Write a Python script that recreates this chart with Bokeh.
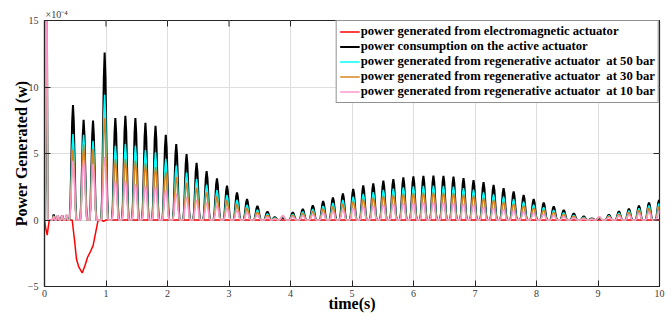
import numpy as np
from bokeh.plotting import figure
from bokeh.models import Range1d, FixedTicker, Legend, LegendItem
from bokeh.embed import file_html
from bokeh.resources import INLINE

# ---------------- data (units of 1e-4 W) ----------------
x_ticks = [0, 1, 2, 3, 4, 5, 6, 7, 8, 9, 10]
y_ticks = [-5, 0, 5, 10, 15]

legend_labels = [
    "power generated from electromagnetic actuator",
    "power consumption on the active actuator",
    "power generated from regenerative actuator  at 50 bar",
    "power generated from regenerative actuator  at 30 bar",
    "power generated from regenerative actuator  at 10 bar",
]

# electromagnetic actuator (red)
red_t = [0.0, 0.02, 0.044, 0.062, 0.078, 0.45, 0.49, 0.52, 0.555, 0.613, 0.66,
         0.70, 0.75, 0.79, 0.838, 0.87, 0.92, 0.96, 1.0, 10.0]
red_v = [0.0, -0.6, -1.13, -0.5, 0.0, 0.0, -1.6, -2.93, -3.5, -3.98, -3.4,
         -2.8, -2.35, -1.93, -0.8, -0.05, 0.0, -0.1, 0.0, 0.0]

# initial spike
start_t = [0.03]
start_black = [22.0]
start_cyan = [22.0]
start_orange = [22.0]
start_pink = [22.0]

# small ripples before the first big peak
ripple_t = [0.15, 0.216, 0.287, 0.358]
ripple_black = [0.40, 0.30, 0.35, 0.30]
ripple_cyan = [0.30, 0.35, 0.30, 0.35]
ripple_orange = [0.30, 0.35, 0.30, 0.40]
ripple_pink = [0.25, 0.38, 0.35, 0.40]

# main peaks
peak_t = [0.463, 0.636, 0.789, 0.978, 1.152, 1.315, 1.478, 1.641, 1.805, 1.972,
          2.142, 2.310, 2.473, 2.636, 2.804, 2.967, 3.130, 3.293, 3.462, 3.625,
          3.744, 3.875, 4.037, 4.200, 4.363, 4.531, 4.690, 4.852, 5.020, 5.183,
          5.346, 5.510, 5.672, 5.835, 5.998, 6.161, 6.324, 6.487, 6.650, 6.813,
          6.976, 7.139, 7.302, 7.465, 7.628, 7.791, 7.954, 8.117, 8.280, 8.443,
          8.606, 8.769, 8.900, 9.020, 9.177, 9.340, 9.503, 9.666, 9.829, 9.992]
black_pk = [8.64, 7.54, 7.47, 12.6, 7.67, 7.84, 7.67, 7.30, 7.09, 6.41,
            5.71, 4.96, 4.29, 3.68, 3.13, 2.58, 2.08, 1.57, 1.06, 0.64,
            0.22, 0.20, 0.57, 0.83, 1.10, 1.42, 1.70, 2.00, 2.33, 2.60,
            2.75, 2.95, 3.08, 3.20, 3.28, 3.32, 3.33, 3.32, 3.26, 3.14,
            3.00, 2.84, 2.63, 2.40, 2.14, 1.88, 1.58, 1.32, 1.02, 0.76,
            0.50, 0.27, 0.12, 0.15, 0.40, 0.65, 0.85, 1.08, 1.32, 1.50]
cyan_pk = [6.46, 6.40, 5.96, 9.42, 5.58, 5.71, 5.58, 5.26, 5.08, 4.60,
           4.10, 3.56, 3.08, 2.64, 2.25, 1.86, 1.50, 1.13, 0.77, 0.46,
           0.16, 0.28, 0.44, 0.62, 0.82, 1.05, 1.27, 1.50, 1.76, 1.97,
           2.10, 2.26, 2.36, 2.46, 2.52, 2.56, 2.58, 2.56, 2.51, 2.40,
           2.28, 2.08, 1.92, 1.75, 1.56, 1.37, 1.15, 0.96, 0.74, 0.55,
           0.36, 0.20, 0.09, 0.20, 0.33, 0.52, 0.70, 0.88, 1.08, 1.25]
orange_pk = [5.28, 5.68, 5.33, 7.64, 4.58, 4.58, 4.46, 4.26, 4.00, 3.62,
             3.22, 2.80, 2.42, 2.08, 1.77, 1.46, 1.18, 0.89, 0.60, 0.36,
             0.12, 0.31, 0.36, 0.50, 0.66, 0.85, 1.02, 1.21, 1.42, 1.58,
             1.69, 1.82, 1.90, 1.98, 2.03, 2.06, 2.08, 2.06, 2.02, 1.94,
             1.84, 1.65, 1.52, 1.38, 1.23, 1.08, 0.91, 0.76, 0.59, 0.44,
             0.29, 0.16, 0.07, 0.23, 0.28, 0.44, 0.58, 0.74, 0.90, 1.00]
pink_pk = [4.45, 4.46, 4.20, 4.76, 2.95, 2.95, 2.70, 2.58, 2.50, 2.25,
           2.00, 1.74, 1.50, 1.29, 1.10, 0.90, 0.73, 0.55, 0.37, 0.22,
           0.08, 0.35, 0.24, 0.33, 0.42, 0.54, 0.65, 0.77, 0.90, 1.01,
           1.07, 1.15, 1.21, 1.26, 1.29, 1.31, 1.32, 1.31, 1.28, 1.22,
           1.14, 0.97, 0.89, 0.81, 0.72, 0.63, 0.53, 0.44, 0.34, 0.26,
           0.17, 0.09, 0.04, 0.25, 0.20, 0.31, 0.40, 0.50, 0.60, 0.68]

# ---------------- drawing style ----------------
PROFILE_U = [-1.0, -0.75, -0.5, -0.25, 0.0, 0.25, 0.5, 0.75, 1.0]
PROFILE_S = [0.0, 0.15, 0.5, 0.85, 1.0, 0.85, 0.5, 0.15, 0.0]
HW_START, HW_RIPPLE, HW_MAIN = 0.025, 0.022, 0.055

SERIF = "Liberation Serif"
AX_COL = "#262626"
COLORS = ["#FF0000", "#000000", "#00FFFF", "#D9831F", "#FF99CC"]
WIDTHS = [1.5, 2.0, 1.5, 1.5, 1.5]

W, H = 672, 320
BL, BR, BT, BB = 44, 13, 20, 34
TICK_PX = 6


def build(groups):
    xs, ys = [0.0], [0.0]
    for times, heights, hw in groups:
        for t, h in zip(times, heights):
            for u, s in zip(PROFILE_U, PROFILE_S):
                xs.append(t + u * hw)
                ys.append(h * s)
    xs.append(10.2)
    ys.append(0.0)
    return xs, ys


series = [
    (red_t, red_v),
    build([(start_t, start_black, HW_START), (ripple_t, ripple_black, HW_RIPPLE), (peak_t, black_pk, HW_MAIN)]),
    build([(start_t, start_cyan, HW_START), (ripple_t, ripple_cyan, HW_RIPPLE), (peak_t, cyan_pk, HW_MAIN)]),
    build([(start_t, start_orange, HW_START), (ripple_t, ripple_orange, HW_RIPPLE), (peak_t, orange_pk, HW_MAIN)]),
    build([(start_t, start_pink, HW_START), (ripple_t, ripple_pink, HW_RIPPLE), (peak_t, pink_pk, HW_MAIN)]),
]

x0, x1 = x_ticks[0], x_ticks[-1]
y0, y1 = y_ticks[0], y_ticks[-1]

p = figure(width=W, height=H, x_range=Range1d(x0, x1), y_range=Range1d(y0, y1),
           output_backend="svg", toolbar_location=None,
           min_border_left=BL, min_border_right=BR, min_border_top=BT, min_border_bottom=BB)
p.outline_line_color = AX_COL
p.outline_line_width = 1.2
p.background_fill_color = "white"

# exponent note (as title, above the frame at the left)
p.title.text = "×10⁻⁴"
p.title.text_font = SERIF
p.title.text_font_size = "10px"
p.title.text_font_style = "normal"
p.title.text_color = "#3A3A3A"
p.title.align = "left"
p.title.offset = 1
p.title.standoff = 2

bottom_ax = p.xaxis[0]
left_ax = p.yaxis[0]

renderers = []
for (xs, ys), col, lw in zip(series, COLORS, WIDTHS):
    r = p.line(xs, ys, line_color=col, line_width=lw)
    renderers.append(r)

# inward ticks on the top and right edges of the box
frame_w = W - BL - BR
frame_h = H - BT - BB
tl_y = TICK_PX * (y1 - y0) / frame_h
tl_x = TICK_PX * (x1 - x0) / frame_w
p.segment(x0=x_ticks, y0=[y1] * len(x_ticks), x1=x_ticks, y1=[y1 - tl_y] * len(x_ticks),
          line_color=AX_COL, line_width=1)
p.segment(x0=[x1] * len(y_ticks), y0=y_ticks, x1=[x1 - tl_x] * len(y_ticks), y1=y_ticks,
          line_color=AX_COL, line_width=1)

# axes
bottom_ax.ticker = FixedTicker(ticks=x_ticks)
left_ax.ticker = FixedTicker(ticks=y_ticks)
p.xgrid.ticker = FixedTicker(ticks=x_ticks)
p.ygrid.ticker = FixedTicker(ticks=y_ticks)
p.xgrid.grid_line_color = "#DEDEDE"
p.ygrid.grid_line_color = "#DEDEDE"

for ax in [bottom_ax, left_ax]:
    ax.axis_line_color = AX_COL
    ax.axis_line_width = 1.2
    ax.major_tick_line_color = AX_COL
    ax.major_tick_in = TICK_PX
    ax.major_tick_out = 0
    ax.minor_tick_line_color = None
    ax.major_label_text_font = SERIF
    ax.major_label_text_color = "#3A3A3A"
    ax.major_label_text_font_size = "10px"
    ax.axis_label_text_font = SERIF
    ax.axis_label_text_font_style = "bold"
    ax.axis_label_text_font_size = "16px"
    ax.axis_label_text_color = "#000000"

bottom_ax.axis_label = "time(s)"
bottom_ax.major_label_standoff = 3
bottom_ax.axis_label_standoff = -5
left_ax.axis_label = "Power Generated (w)"
left_ax.major_label_standoff = 6
left_ax.axis_label_standoff = -5

legend = Legend(items=[LegendItem(label=lab, renderers=[r]) for lab, r in zip(legend_labels, renderers)],
                location="top_right", label_text_font=SERIF, label_text_font_style="bold",
                label_text_font_size="12.7px", label_text_color="#000000",
                glyph_width=20, glyph_height=15, label_height=15, spacing=0,
                padding=3, margin=0, label_standoff=1,
                border_line_color=AX_COL, border_line_width=1,
                background_fill_color="white", background_fill_alpha=1)
p.add_layout(legend)

open("out.html", "w").write(file_html(p, INLINE))
